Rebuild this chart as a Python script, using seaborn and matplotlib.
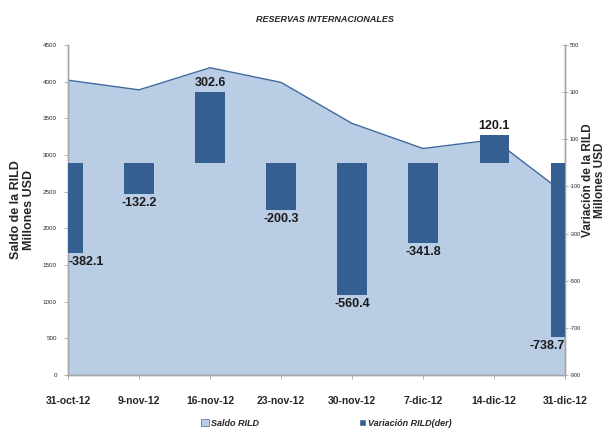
import matplotlib
matplotlib.use("Agg")
import matplotlib.pyplot as plt
import numpy as np
import seaborn as sns
from matplotlib.patches import Patch

FECHAS = ["31-oct-12", "9-nov-12", "16-nov-12", "23-nov-12",
          "30-nov-12", "7-dic-12", "14-dic-12", "31-dic-12"]
SALDO = [4022, 3890, 4192, 3992, 3432, 3090, 3210, 2471]
VARIACION = [-382.1, -132.2, 302.6, -200.3, -560.4, -341.8, 120.1, -738.7]

AREA_FILL = "#b9cde5"
AREA_EDGE = "#3f6aa0"
BAR_COLOR = "#365f91"
AXIS_GRAY = "#a6a6a6"

sns.set_theme(style="white")
plt.rcParams["font.family"] = ["Liberation Sans Narrow", "Liberation Sans",
                               "DejaVu Sans"]
plt.rcParams["axes.unicode_minus"] = False

fig = plt.figure(figsize=(6.05, 4.30), dpi=100)
ax = fig.add_axes([0.1124, 0.128, 0.8216, 0.767])
x = np.arange(len(FECHAS))

# ---- area: saldo (left axis) ----
ax.fill_between(x, SALDO, 0, color=AREA_FILL, linewidth=0, zorder=1)
sns.lineplot(x=x, y=SALDO, ax=ax, color=AREA_EDGE, linewidth=1.0, zorder=2)
ax.set_ylim(0, 4500)
ax.set_yticks(np.arange(0, 4501, 500))
ax.tick_params(axis="y", labelsize=4.5, length=3, direction="out",
               left=True, width=0.6, color=AXIS_GRAY, pad=5)
ax.set_ylabel("")

# ---- bars: variacion (right axis) ----
ax2 = ax.twinx()
sns.barplot(x=x, y=VARIACION, ax=ax2, color=BAR_COLOR, width=0.41,
            saturation=1, linewidth=0, zorder=3)
ax2.set_ylim(-900, 500)
ax2.set_yticks(np.arange(-900, 501, 200))
ax2.tick_params(axis="y", labelsize=4, length=4, direction="inout",
                right=True, width=0.6, color=AXIS_GRAY, pad=1.5)
ax2.set_ylabel("")

for i, v in enumerate(VARIACION):
    ha = "center"
    if i == 0:
        ha = "left"
    elif i == len(VARIACION) - 1:
        ha = "right"
    off = 12 if v > 0 else -12
    ax2.text(i, v + off, f"{v:.1f}", ha=ha,
             va="bottom" if v > 0 else "top",
             fontsize=9, fontweight="bold", color="#1a1a1a", zorder=4)

ax.set_xlim(0, 7)
ax2.set_xlim(0, 7)
ax.set_xticks(x)
ax.set_xticklabels(FECHAS, fontsize=7.5, fontweight="bold")
ax.tick_params(axis="x", length=3, direction="out", bottom=True,
               width=0.6, color=AXIS_GRAY, pad=12)

for a in (ax, ax2):
    a.spines["top"].set_visible(False)
    for s in ("left", "right", "bottom"):
        a.spines[s].set_color(AXIS_GRAY)
        a.spines[s].set_linewidth(1.0)

fig.text(0.037, 0.512, "Saldo de la RILD\nMillones USD", rotation=90,
         ha="center", va="center", fontsize=9, fontweight="bold",
         linespacing=1.1)
fig.text(0.981, 0.58, "Variación de la RILD\nMillones USD", rotation=90,
         ha="center", va="center", fontsize=8.5, fontweight="bold",
         linespacing=1.0)

fig.text(0.537, 0.955, "RESERVAS INTERNACIONALES", ha="center",
         va="center", fontsize=6.5, fontweight="bold", style="italic")

handles = [Patch(facecolor=AREA_FILL, edgecolor=AREA_EDGE, linewidth=0.5,
                 label="Saldo RILD"),
           Patch(facecolor=BAR_COLOR, label="Variación RILD(der)")]
fig.legend(handles=handles, loc="center", ncol=2,
           bbox_to_anchor=(0.54, 0.015), frameon=False,
           columnspacing=11, handlelength=0.8, handleheight=0.8,
           handletextpad=0.3,
           prop={"size": 6.5, "weight": "bold", "style": "italic"})

fig.savefig("out.png", dpi=100)
